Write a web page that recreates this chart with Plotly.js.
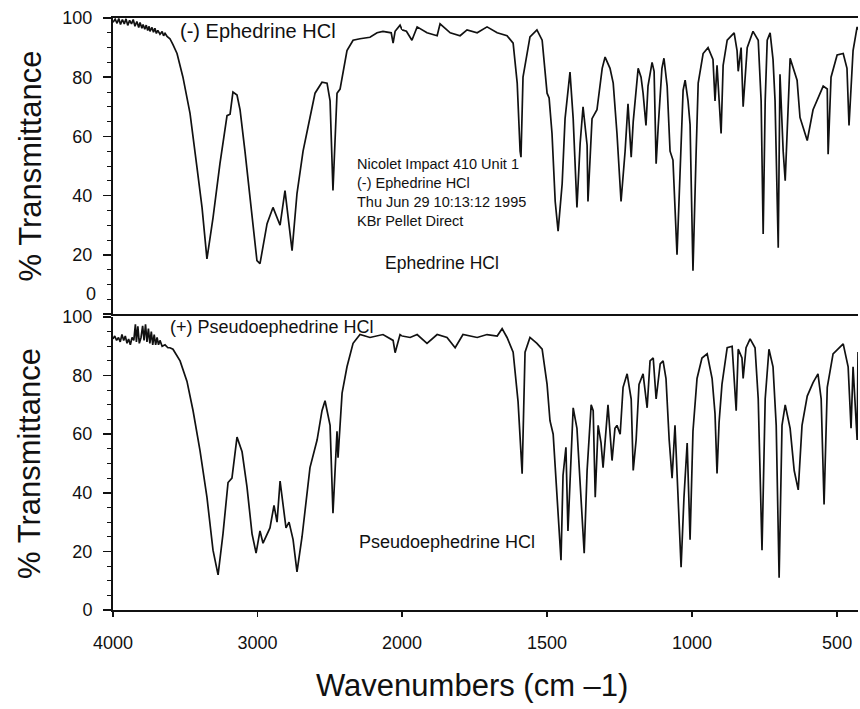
<!DOCTYPE html>
<html>
<head>
<meta charset="utf-8">
<script src="https://cdn.plot.ly/plotly-3.0.1.min.js"></script>
<style>html,body{margin:0;padding:0;background:#fff;}#chart{width:860px;height:709px;}</style>
</head>
<body>
<div id="chart"></div>
<script>
// (-) Ephedrine HCl : wavenumber (cm-1) and % transmittance
const ephWn = [
4000,3985,3972,3960,3948,3935,3922,3910,3898,3885,3872,3860,3848,3835,3822,3813,3800,3792,3780,3770,
3760,3750,3744,3730,3720,3710,3700,3690,3675,3660,3650,3640,3626,3606,3585,3557,3516,3467,3419,3384,
3350,3308,3260,3211,3190,3170,3142,3121,3087,3038,3004,2983,2962,2934,2893,2844,2810,2761,2727,2685,
2637,2602,2554,2519,2498,2478,2450,2429,2381,2339,2291,2222,2173,2132,2075,2062,2048,2014,2000,
1985,1966,1948,1914,1879,1869,1834,1800,1776,1741,1707,1672,1638,1617,1603,1593,1590,1583,1559,1535,
1517,1500,1493,1483,1472,1462,1448,1438,1421,1410,1397,1386,1376,1362,1359,1345,1328,1310,1300,1283,
1272,1259,1245,1231,1221,1210,1203,1186,1176,1169,1159,1152,1138,1131,1124,1117,1104,1097,1086,1076,
1066,1052,1041,1031,1024,1014,1007,997,986,979,962,945,928,921,914,900,893,879,855,845,
841,831,824,810,790,772,762,755,748,741,731,721,714,703,697,686,679,662,638,628,
603,583,548,534,531,521,500,479,466,459,445,431,428];
const ephT = [
98.6,99.6,98.2,99.8,97.8,99.5,98,99.7,97.5,99.2,98,99.5,97.2,98.8,96.8,98.5,96.5,97.8,96.2,97.6,
95.8,97.2,95.5,96.8,95.2,96.5,94.8,95.8,94.5,95.4,94,94.8,93.8,93,91,88,80,67.8,49.5,36,
18.6,32.5,50.8,67,67.5,75,74,69,55,34,18,17,22.4,30.5,36,30,41.7,21.4,40.7,55,
66.4,74.6,78.3,78,72,41.7,74.6,76,89,92.5,93,93.5,95,95.5,95,91.5,95.5,97.6,96,
95.5,92.5,97,95,94,98,95,94,96,95,97,95,94,91.5,78,55,53,80,93.6,96,
92.5,74.6,73,61,38,28,44,66,81.7,66,36,57.6,70,57,38,66,69,83,86.8,83,
78,61,38,55,71,53,65,83,80,74.6,63.7,77,85,82,50.8,63,83,86.4,77,55,
52,20,52,75.6,79,72,64,14.6,55,78,88,90,86,72,84,61,84,92.5,95,89,
82,90,70,90,95.5,92.5,72,27,72,92.5,95,86,72,22.4,81,55,45,86.4,79,66.4,
58.6,69,77,76,54,80,87.5,88,83,63.7,89,97,96];

// (+) Pseudoephedrine HCl : wavenumber (cm-1) and % transmittance
const pseWn = [
4000,3988,3975,3962,3950,3938,3926,3915,3903,3892,3880,3868,3856,3845,3838,3828,3818,3806,3795,3785,
3775,3765,3755,3745,3735,3725,3715,3705,3695,3685,3675,3660,3640,3620,3606,3585,3536,3488,3446,3398,
3350,3308,3273,3239,3204,3177,3142,3107,3073,3038,3010,2983,2962,2914,2886,2865,2844,2824,2803,2782,
2754,2727,2692,2637,2588,2554,2533,2498,2478,2450,2443,2415,2381,2339,2291,2222,2132,2062,2048,2014,2000,
1972,1948,1914,1879,1845,1817,1790,1741,1707,1672,1655,1638,1617,1600,1586,1576,1559,1535,1517,1500,
1490,1479,1462,1452,1445,1435,1428,1417,1410,1397,1386,1372,1362,1348,1341,1334,1324,1314,1307,1293,
1290,1276,1266,1259,1248,1238,1224,1210,1203,1193,1183,1169,1155,1145,1134,1124,1110,1100,1090,1079,
1069,1059,1052,1038,1028,1017,1007,997,983,966,948,931,921,914,907,897,879,862,848,841,
828,824,814,800,783,772,759,748,735,721,710,700,690,679,662,648,634,621,603,583,
566,555,545,534,514,479,462,452,445,431,428];
const pseT = [
92.5,93.5,92,93,91.5,94,92,93.5,91,92.5,90.5,93,92,97.5,91.5,96.8,91,93,97,92,
97.5,91.5,96,91,95,90.5,94,90.5,93,90.5,92,90,90.5,89.5,89.5,89,85,78,68,54.4,
38.5,20.4,12,26,43.5,45,59,54,42,26,19.4,27,22.8,28,35.7,30,44,37,28,30,
24,13,25,48.6,58,68,71.4,63,33,61,52,74,83,91,94,93,94,92,87.8,94,93.5,
93,94,91,94,93,89.5,94,93,94,93.5,96,93,88,71,46.5,88,93,91,89,77,
64.6,60,31.7,17,46,55.5,27,55,69,62,42,19.4,47.6,70,68,38.5,63,57,48.6,69,
70,51,62,63,60,76,80.6,72,47.6,58,77,80.6,69,85,86,72,84,85,79,58,
45,63,48,14.6,38.5,57,24,61,79,86,87.4,79,67,46.6,64,77,89.5,90,68,89,
86,79,89.5,92.5,89.5,72,20.4,72,89,83,63,11,63,70,62,47.6,41,63,73,77.6,
80.6,72,36,76,87.4,90.8,83,62,83,58,88];

// axis tick values and labels
const xTicksHigh = [4000, 3000, 2000];
const xTicksLow = [1500, 1000, 500];
const yTicks = [0, 20, 40, 60, 80, 100];
const yTickTextTop = ['', '20', '40', '60', '80', '100'];
const yTickTextBottom = ['0', '20', '40', '60', '80', '100'];
const BREAK = 2000;

function part(wn, t, high) {
  const x = [], y = [];
  wn.forEach((w, i) => {
    if (high ? w >= BREAK : w <= BREAK) { x.push(w); y.push(t[i]); }
  });
  return {x, y};
}

const FONT = 'Liberation Sans, Arial, Helvetica, sans-serif';
const lineStyle = {color: '#111', width: 1.7};
const e1 = part(ephWn, ephT, true), e2 = part(ephWn, ephT, false);
const p1 = part(pseWn, pseT, true), p2 = part(pseWn, pseT, false);

const traces = [
  {x: e1.x, y: e1.y, xaxis: 'x3', yaxis: 'y2', mode: 'lines', line: lineStyle, hoverinfo: 'skip'},
  {x: e2.x, y: e2.y, xaxis: 'x4', yaxis: 'y2', mode: 'lines', line: lineStyle, hoverinfo: 'skip'},
  {x: p1.x, y: p1.y, xaxis: 'x', yaxis: 'y', mode: 'lines', line: lineStyle, hoverinfo: 'skip'},
  {x: p2.x, y: p2.y, xaxis: 'x2', yaxis: 'y', mode: 'lines', line: lineStyle, hoverinfo: 'skip'}
];

const D = 0.388;
const xBase = {showline: true, linecolor: '#111', linewidth: 2, showgrid: false, zeroline: false,
  ticks: 'outside', ticklen: 5, tickwidth: 1.5, tickcolor: '#111',
  tickfont: {family: FONT, size: 18, color: '#111'}, ticklabelstandoff: 10, fixedrange: true};
const yBase = {showline: true, linecolor: '#111', linewidth: 2, showgrid: false, zeroline: false,
  range: [0, 100], tickmode: 'array', tickvals: yTicks,
  ticks: 'outside', ticklen: 8, tickwidth: 1.5, tickcolor: '#111',
  minor: {dtick: 5, tick0: 0, ticks: 'outside', ticklen: 4, tickcolor: '#111', tickwidth: 1},
  tickfont: {family: FONT, size: 18, color: '#111'}, ticklabelstandoff: 7, fixedrange: true,
  title: {text: '% Transmittance', font: {family: FONT, size: 31, color: '#111'}, standoff: 12}};

const layout = {
  width: 860, height: 709,
  margin: {l: 113, r: 2, t: 18, b: 99},
  paper_bgcolor: '#fff', plot_bgcolor: '#fff',
  showlegend: false,
  xaxis: Object.assign({}, xBase, {domain: [0, D], range: [4000, BREAK], anchor: 'y', tickmode: 'array', tickvals: xTicksHigh}),
  xaxis2: Object.assign({}, xBase, {domain: [D, 1], range: [BREAK, 428], anchor: 'y', tickmode: 'array', tickvals: xTicksLow}),
  xaxis3: Object.assign({}, xBase, {domain: [0, D], range: [4000, BREAK], anchor: 'y2', showticklabels: false, ticks: '', mirror: true}),
  xaxis4: Object.assign({}, xBase, {domain: [D, 1], range: [BREAK, 428], anchor: 'y2', showticklabels: false, ticks: '', mirror: true}),
  yaxis: Object.assign({}, yBase, {domain: [0, 0.495], anchor: 'x', ticktext: yTickTextBottom}),
  yaxis2: Object.assign({}, yBase, {domain: [0.5, 1], anchor: 'x3', ticktext: yTickTextTop}),
  annotations: [
    {text: '0', xref: 'paper', yref: 'paper', x: 0, y: 0.534, xanchor: 'right', yanchor: 'middle', xshift: -15,
     showarrow: false, font: {family: FONT, size: 18, color: '#111'}},
    {text: '(-) Ephedrine HCl', xref: 'paper', yref: 'paper', x: 0.087, y: 0.978, xanchor: 'left', yanchor: 'middle',
     showarrow: false, font: {family: FONT, size: 20, color: '#111'}},
    {text: '(+) Pseudoephedrine HCl', xref: 'paper', yref: 'paper', x: 0.074, y: 0.478, xanchor: 'left', yanchor: 'middle',
     showarrow: false, font: {family: FONT, size: 18, color: '#111'}},
    {text: 'Nicolet Impact 410 Unit 1<br>(-) Ephedrine HCl<br>Thu Jun 29 10:13:12 1995<br>KBr Pellet Direct',
     xref: 'paper', yref: 'paper', x: 0.325, y: 0.706, xanchor: 'left', yanchor: 'middle', align: 'left',
     showarrow: false, font: {family: FONT, size: 14.5, color: '#111'}},
    {text: 'Ephedrine HCl', xref: 'paper', yref: 'paper', x: 0.4416, y: 0.586, xanchor: 'center', yanchor: 'middle',
     showarrow: false, font: {family: FONT, size: 17.5, color: '#111'}},
    {text: 'Pseudoephedrine HCl', xref: 'paper', yref: 'paper', x: 0.4477, y: 0.115, xanchor: 'center', yanchor: 'middle',
     showarrow: false, font: {family: FONT, size: 18, color: '#111'}},
    {text: 'Wavenumbers (cm \u20131)', xref: 'paper', yref: 'paper', x: 0.482, y: -0.127, xanchor: 'center', yanchor: 'middle',
     showarrow: false, font: {family: FONT, size: 31, color: '#111'}}
  ]
};

Plotly.newPlot('chart', traces, layout, {displayModeBar: false, staticPlot: true});
</script>
</body>
</html>
